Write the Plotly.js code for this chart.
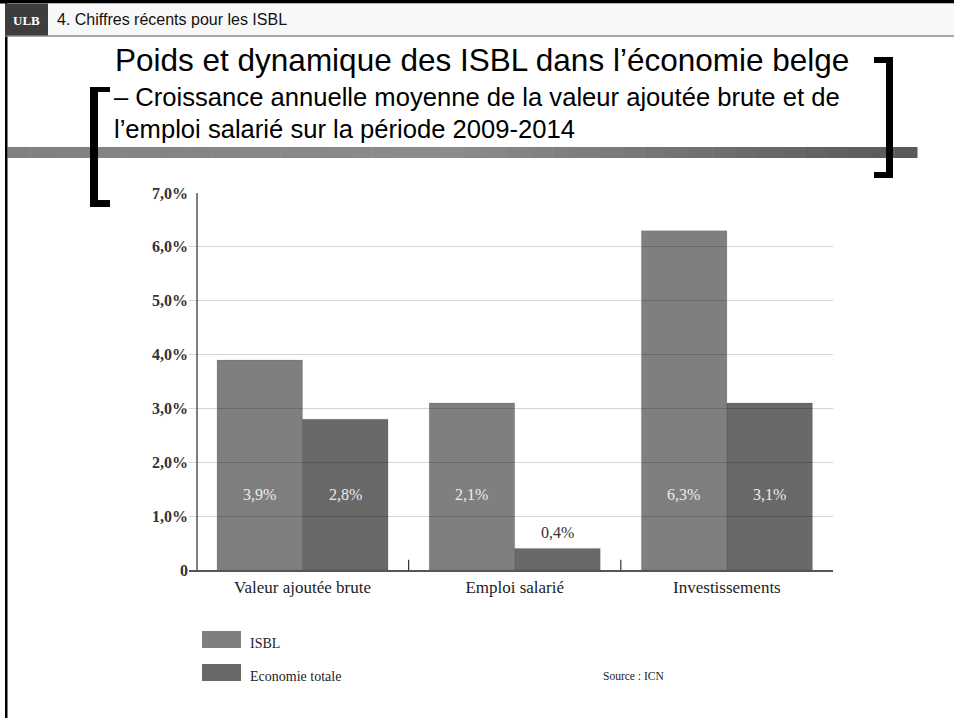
<!DOCTYPE html>
<html>
<head>
<meta charset="utf-8">
<script src="https://cdn.plot.ly/plotly-3.0.1.min.js"></script>
<style>
  html, body { margin: 0; padding: 0; background: #fff; }
  #graph { width: 954px; height: 718px; }
</style>
</head>
<body>
<div id="graph"></div>
<script>
// Données
const categories = ['Valeur ajoutée brute', 'Emploi salarié', 'Investissements'];
const isblValues = [3.9, 3.1, 6.3];
const ecoValues = [2.8, 0.4, 3.1];
const isblLabels = ['3,9%', '2,1%', '6,3%'];
const ecoLabels = ['2,8%', '0,4%', '3,1%'];
const yTickVals = [0, 1, 2, 3, 4, 5, 6, 7];
const yTickText = ['0', '1,0%', '2,0%', '3,0%', '4,0%', '5,0%', '6,0%', '7,0%'];

const W = 954, H = 718;
const px = x => x / W;          // pixel -> paper x
const py = y => 1 - y / H;      // pixel -> paper y

const isblColor = 'rgba(0,0,0,0.50)';
const ecoColor = 'rgba(0,0,0,0.59)';
const serif = 'Liberation Serif, serif';
const sans = 'Liberation Sans, Arial, sans-serif';

const traces = [
    {
        type: 'bar', name: 'ISBL', x: categories, y: isblValues,
        marker: { color: isblColor, line: { width: 0.5, color: 'rgba(0,0,0,0.2)' } },
        hoverinfo: 'skip'
    },
    {
        type: 'bar', name: 'Economie totale', x: categories, y: ecoValues,
        marker: { color: ecoColor, line: { width: 0.5, color: 'rgba(0,0,0,0.2)' } },
        hoverinfo: 'skip'
    }
];

// Etiquettes de valeurs sur les barres
const barShift = 43;
const annotations = [];
function addBarLabels(values, labels, shift) {
    values.forEach((v, i) => {
        const inside = v > 1.8;
        annotations.push({
            xref: 'x', yref: 'y', x: i, y: inside ? 1.4 : v + 0.3, xshift: shift,
            xanchor: 'center', yanchor: 'middle',
            text: labels[i], showarrow: false,
            font: { family: serif, size: 16, color: inside ? '#ececec' : '#333' }
        });
    });
}
addBarLabels(isblValues, isblLabels, -barShift);
addBarLabels(ecoValues, ecoLabels, barShift);

// texte positionné en pixels sur la page
function label(x, y, text, size, family, color, xanchor) {
    return { xref: 'paper', yref: 'paper', x: px(x), y: py(y), xanchor: xanchor || 'left', yanchor: 'middle',
             text: text, showarrow: false, font: { family: family, size: size, color: color } };
}

// En-tête, titres, légende, source
annotations.push(
    label(26.5, 20, '<b>ULB</b>', 13, serif, '#fff', 'center'),
    label(55, 19, '4. Chiffres récents pour les ISBL', 16, sans, '#111'),
    label(482, 60, 'Poids et dynamique des ISBL dans l’économie belge', 31.5, sans, '#000', 'center'),
    label(112, 97, '– Croissance annuelle moyenne de la valeur ajoutée brute et de', 25.6, sans, '#000'),
    label(112, 129, 'l’emploi salarié sur la période 2009-2014', 25.6, sans, '#000'),
    label(248, 643, 'ISBL', 14, serif, '#222'),
    label(248, 676, 'Economie totale', 14, serif, '#222'),
    label(666, 676, 'Source : ICN', 11.5, serif, '#222', 'right')
);

function rect(x0, y0, x1, y1, color, layer) {
    return { type: 'rect', xref: 'paper', yref: 'paper', x0: px(x0), x1: px(x1), y0: py(y1), y1: py(y0),
             fillcolor: color, line: { width: 0 }, layer: layer || 'above' };
}

const shapes = [
    // bordure noire
    rect(5, 0, 7.5, 718, '#000'),
    rect(0, 0, 954, 3.5, '#000'),
    // bandeau d'en-tête
    rect(7.5, 3.5, 954, 35.5, '#f8f8f8'),
    { type: 'line', xref: 'paper', yref: 'paper', x0: px(5), x1: px(954), y0: py(36), y1: py(36), line: { color: '#8a8a8a', width: 1.5 } },
    rect(5, 3.5, 48, 35.5, '#3d3d3d')
];

// barre grise en dégradé
const gradStops = [[0, 128], [450, 140], [917, 88]];
const nSeg = 40;
for (let k = 0; k < nSeg; k++) {
    const xa = 7.5 + (917 - 7.5) * k / nSeg, xb = 7.5 + (917 - 7.5) * (k + 1) / nSeg, xm = (xa + xb) / 2;
    let g;
    if (xm <= gradStops[1][0]) g = gradStops[0][1] + (gradStops[1][1] - gradStops[0][1]) * xm / gradStops[1][0];
    else g = gradStops[1][1] + (gradStops[2][1] - gradStops[1][1]) * (xm - gradStops[1][0]) / (gradStops[2][0] - gradStops[1][0]);
    g = Math.round(g);
    shapes.push(rect(xa, 147, xb + 0.5, 158, `rgb(${g},${g},${g})`, 'below'));
}

// crochets
shapes.push(
    rect(90, 87, 98, 207, '#000'),
    rect(90, 87, 110, 92, '#000'),
    rect(90, 200, 110, 207, '#000'),
    rect(886, 57, 893, 178, '#000'),
    rect(874, 57, 893, 63, '#000'),
    rect(874, 172, 893, 178, '#000')
);

// axe y (trait vertical) et petites graduations entre les groupes
shapes.push({ type: 'line', xref: 'paper', yref: 'paper', x0: px(197), x1: px(197), y0: py(570), y1: py(193),
              line: { color: '#555', width: 1.5 } });
[0.5, 1.5].forEach(v => {
    shapes.push({ type: 'line', xref: 'x', yref: 'y', x0: v, x1: v, y0: 0, y1: 0.19, line: { color: '#333', width: 1.2 } });
});

// légende dessinée à la main
shapes.push(
    rect(202, 631, 241, 648, isblColor),
    rect(202, 664, 241, 681, ecoColor)
);

const layout = {
    width: W, height: H,
    margin: { l: 0, r: 0, t: 0, b: 0 },
    paper_bgcolor: '#fff', plot_bgcolor: 'rgba(0,0,0,0)',
    showlegend: false,
    barmode: 'group', bargap: 0.194, bargroupgap: 0,
    xaxis: {
        domain: [px(189), px(833)],
        range: [-0.535, 2.5],
        type: 'category',
        showgrid: false, zeroline: false,
        showline: true, linecolor: '#555', linewidth: 1.5,
        ticks: '', ticklabelstandoff: 1,
        tickfont: { family: serif, size: 17, color: '#222' },
        fixedrange: true
    },
    yaxis: {
        domain: [py(570), py(193)],
        range: [0, 7],
        anchor: 'free', position: px(197),
        tickvals: yTickVals, ticktext: yTickText,
        showgrid: true, gridcolor: '#d4d4d4', gridwidth: 1.2,
        zeroline: false, showline: false, ticks: '',
        ticklabelstandoff: 9,
        tickfont: { family: serif, size: 16, color: '#333', weight: 'bold' },
        fixedrange: true
    },
    annotations: annotations,
    shapes: shapes
};

Plotly.newPlot('graph', traces, layout, { displayModeBar: false, staticPlot: true });
</script>
</body>
</html>
